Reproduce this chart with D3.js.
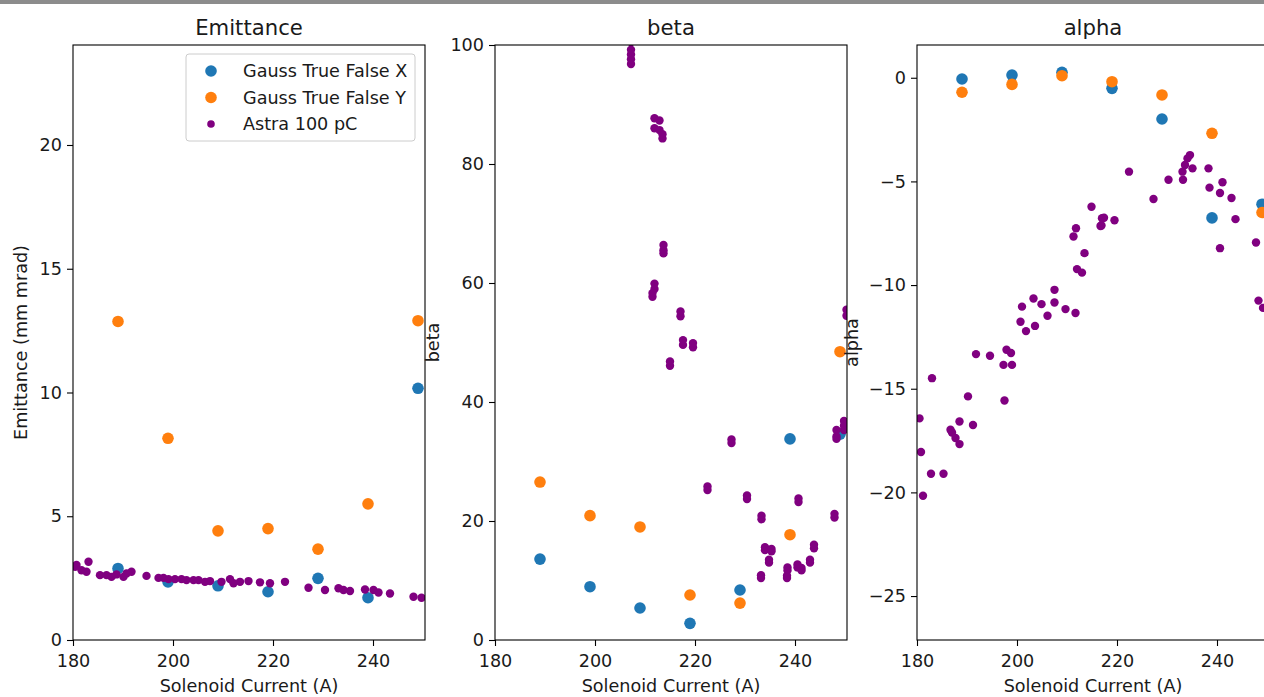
<!DOCTYPE html>
<html>
<head>
<meta charset="utf-8">
<script src="https://cdn.jsdelivr.net/npm/d3@7"></script>
<style>
  html, body { margin: 0; padding: 0; background: #fff; }
  svg { display: block; font-family: "DejaVu Sans", sans-serif; }
  .tick text { font-size: 17.6px; fill: #1a1a1a; }
  .tick line { stroke: #000; stroke-width: 1.1; }
</style>
</head>
<body>
<svg id="chart" width="1264" height="697"></svg>
<script>
// Gauss fits, one value per solenoid setting
var gaussCurrent = [189, 199, 209, 219, 229, 239, 249];
var emitX  = [2.89, 2.35, 2.19, 1.95, 2.49, 1.71, 10.17];
var emitY  = [12.87, 8.15, 4.41, 4.50, 3.67, 5.50, 12.90];
var betaX  = [13.6, 8.96, 5.38, 2.8, 8.4, 33.8, 34.6];
var betaY  = [26.55, 20.9, 19.0, 7.56, 6.2, 17.7, 48.45];
var alphaX = [-0.06, 0.13, 0.26, -0.51, -1.99, -6.76, -6.1];
var alphaY = [-0.70, -0.32, 0.10, -0.19, -0.83, -2.68, -6.5];

// Astra 100 pC simulation points: [current, value]
var astraEmit = [
  [180.4, 2.96], [180.7, 3.03], [181.7, 2.82], [183.1, 3.16], [182.7, 2.76],
  [185.4, 2.62], [186.7, 2.62], [187.7, 2.55], [188.7, 2.65], [190.1, 2.55],
  [190.7, 2.69], [191.7, 2.76], [194.7, 2.59], [197.1, 2.51], [198.1, 2.51],
  [199.1, 2.46], [200.4, 2.46], [201.7, 2.46], [202.7, 2.42], [204.1, 2.42],
  [205.1, 2.42], [206.4, 2.35], [207.4, 2.38], [209.7, 2.35], [211.4, 2.46],
  [212.1, 2.29], [213.4, 2.35], [215.1, 2.38], [217.4, 2.33], [219.4, 2.29],
  [222.4, 2.35], [227.1, 2.11], [230.4, 2.02], [233.1, 2.09], [234.1, 2.02],
  [235.4, 1.98], [238.4, 2.04], [240.1, 2.02], [241.1, 1.92], [243.4, 1.88],
  [248.1, 1.75], [249.7, 1.71]
];
var astraBeta = [
  [207.2, 96.8], [207.2, 97.6], [207.2, 98.4], [207.2, 99.2], [207.2, 100.5],
  [211.9, 87.7], [211.9, 86.0], [212.9, 87.3], [212.9, 85.7], [213.5, 84.3], [213.5, 85.0],
  [213.7, 66.4], [213.7, 65.5], [213.7, 65.0],
  [211.9, 59.9], [211.9, 59.0], [211.5, 57.7], [211.5, 58.3],
  [217.1, 55.2], [217.1, 54.4], [217.6, 50.4], [217.6, 49.6],
  [219.6, 49.9], [219.6, 49.2], [215.0, 46.8], [215.0, 46.1],
  [227.3, 33.7], [227.3, 33.1], [222.5, 25.8], [222.5, 25.2],
  [230.4, 24.3], [230.4, 23.7], [233.3, 20.9], [233.3, 20.3],
  [240.7, 23.8], [240.7, 23.2], [247.9, 21.2], [247.9, 20.6],
  [233.2, 10.9], [233.2, 10.4], [234.0, 15.6], [234.0, 15.1],
  [235.3, 15.3], [235.3, 14.9], [234.8, 13.5], [234.8, 13.0],
  [238.5, 12.2], [238.5, 11.7], [238.4, 10.8], [238.4, 10.4],
  [240.5, 12.7], [240.5, 12.2], [241.3, 12.1], [241.3, 11.7],
  [243.0, 13.5], [243.0, 13.0], [243.8, 16.0], [243.8, 15.4],
  [248.3, 35.3], [248.3, 34.2], [248.3, 33.8],
  [249.8, 36.8], [249.8, 36.0], [249.8, 35.3],
  [250.3, 55.5], [250.3, 54.5]
];
var astraAlpha = [
  [214.9, -6.22], [217.0, -6.78], [216.7, -7.15], [211.8, -7.26], [211.3, -7.66],
  [213.5, -8.46], [212.0, -9.23], [213.0, -9.40], [207.5, -10.23], [207.5, -10.84],
  [209.7, -11.16], [211.7, -11.35], [203.3, -10.65], [204.9, -10.92], [206.1, -11.48],
  [201.0, -11.04], [200.7, -11.77], [201.8, -12.22], [203.6, -11.97], [191.8, -13.33],
  [194.6, -13.41], [197.9, -13.12], [198.8, -13.28], [197.3, -13.85], [199.0, -13.85],
  [183.0, -14.49], [190.2, -15.37], [197.5, -15.57], [180.5, -16.43], [188.5, -16.58],
  [191.2, -16.75], [186.7, -16.98], [187.0, -17.11], [187.7, -17.38], [188.5, -17.67],
  [180.8, -18.05], [182.8, -19.10], [185.3, -19.10], [181.2, -20.16],
  [222.4, -4.53], [230.3, -4.92], [227.3, -5.85], [217.4, -6.75], [216.9, -7.13],
  [219.5, -6.87], [234.6, -3.73], [234.1, -3.89], [233.6, -4.21], [235.1, -4.37],
  [233.1, -4.53], [233.2, -4.92], [238.3, -4.37], [238.5, -5.30], [241.1, -5.04],
  [240.6, -5.56], [242.9, -5.80], [243.7, -6.82], [240.6, -8.22], [247.8, -7.95],
  [248.3, -10.75], [249.2, -11.1]
];

var xDomain = [180, 250.4];
var xTicks = [180, 200, 220, 240];
var legendLabels = ["Gauss True False X", "Gauss True False Y", "Astra 100 pC"];
var colors = { x: "#1f77b4", y: "#ff7f0e", astra: "#800080" };

var panels = [
  { title: "Emittance", ylabel: "Emittance (mm mrad)", left: 73, yDomain: [0, 24.04], yTicks: [0, 5, 10, 15, 20],
    gx: emitX, gy: emitY, astra: astraEmit, labelX: 27, legend: true },
  { title: "beta", ylabel: "beta", left: 495, yDomain: [0, 100], yTicks: [0, 20, 40, 60, 80, 100],
    gx: betaX, gy: betaY, astra: astraBeta, labelX: 439 },
  { title: "alpha", ylabel: "alpha", left: 917, yDomain: [-27.12, 1.58], yTicks: [-25, -20, -15, -10, -5, 0],
    gx: alphaX, gy: alphaY, astra: astraAlpha, labelX: 858 }
];

var plotW = 352, plotTop = 45, plotBottom = 640;
var svg = d3.select("#chart");
svg.append("rect").attr("x", 0).attr("y", 0).attr("width", 1264).attr("height", 4).attr("fill", "#8c8c8c");

panels.forEach(function (p, i) {
  var x = d3.scaleLinear().domain(xDomain).range([p.left, p.left + plotW]);
  var y = d3.scaleLinear().domain(p.yDomain).range([plotBottom, plotTop]);
  var g = svg.append("g");

  var clipId = "clip" + i;
  g.append("clipPath").attr("id", clipId).append("rect")
    .attr("x", p.left).attr("y", plotTop).attr("width", plotW).attr("height", plotBottom - plotTop);

  var marks = g.append("g").attr("clip-path", "url(#" + clipId + ")");
  marks.selectAll("circle.gx").data(gaussCurrent).enter().append("circle")
    .attr("cx", function (d) { return x(d); }).attr("cy", function (d, j) { return y(p.gx[j]); })
    .attr("r", 5.8).attr("fill", colors.x);
  marks.selectAll("circle.gy").data(gaussCurrent).enter().append("circle")
    .attr("cx", function (d) { return x(d); }).attr("cy", function (d, j) { return y(p.gy[j]); })
    .attr("r", 5.8).attr("fill", colors.y);
  marks.selectAll("circle.as").data(p.astra).enter().append("circle")
    .attr("cx", function (d) { return x(d[0]); }).attr("cy", function (d) { return y(d[1]); })
    .attr("r", 4.2).attr("fill", colors.astra);

  var xa = g.append("g").attr("transform", "translate(0," + plotBottom + ")")
    .call(d3.axisBottom(x).tickValues(xTicks).tickSize(6).tickPadding(8.5).tickFormat(d3.format("d")));
  xa.select(".domain").remove();
  var ya = g.append("g").attr("transform", "translate(" + p.left + ",0)")
    .call(d3.axisLeft(y).tickValues(p.yTicks).tickSize(6).tickPadding(5).tickFormat(d3.format("d")));
  ya.select(".domain").remove();
  g.selectAll(".tick text").attr("font-family", "DejaVu Sans");

  g.append("rect").attr("x", p.left).attr("y", plotTop).attr("width", plotW).attr("height", plotBottom - plotTop)
    .attr("fill", "none").attr("stroke", "#000").attr("stroke-width", 1.1);

  g.append("text").attr("x", p.left + plotW / 2).attr("y", 35).attr("text-anchor", "middle")
    .attr("font-size", "21.2px").attr("fill", "#1a1a1a").text(p.title);
  g.append("text").attr("x", p.left + plotW / 2).attr("y", 692).attr("text-anchor", "middle")
    .attr("font-size", "17.6px").attr("fill", "#1a1a1a").text("Solenoid Current (A)");
  g.append("text").attr("transform", "translate(" + p.labelX + "," + (plotTop + plotBottom) / 2 + ") rotate(-90)")
    .attr("text-anchor", "middle").attr("font-size", "17.6px").attr("fill", "#1a1a1a").text(p.ylabel);

  if (p.legend) {
    var lg = g.append("g");
    lg.append("rect").attr("x", 186).attr("y", 54).attr("width", 229).attr("height", 87)
      .attr("rx", 3).attr("fill", "#fff").attr("fill-opacity", 0.8).attr("stroke", "#cccccc").attr("stroke-width", 1);
    var legColors = [colors.x, colors.y, colors.astra], legR = [5.8, 5.8, 3.8];
    legendLabels.forEach(function (t, k) {
      var cy = 71 + k * 26.5;
      lg.append("circle").attr("cx", 211).attr("cy", cy).attr("r", legR[k]).attr("fill", legColors[k]);
      lg.append("text").attr("x", 243).attr("y", cy + 6.3).attr("font-size", "17.6px").attr("fill", "#1a1a1a").text(t);
    });
  }
});
</script>
</body>
</html>
